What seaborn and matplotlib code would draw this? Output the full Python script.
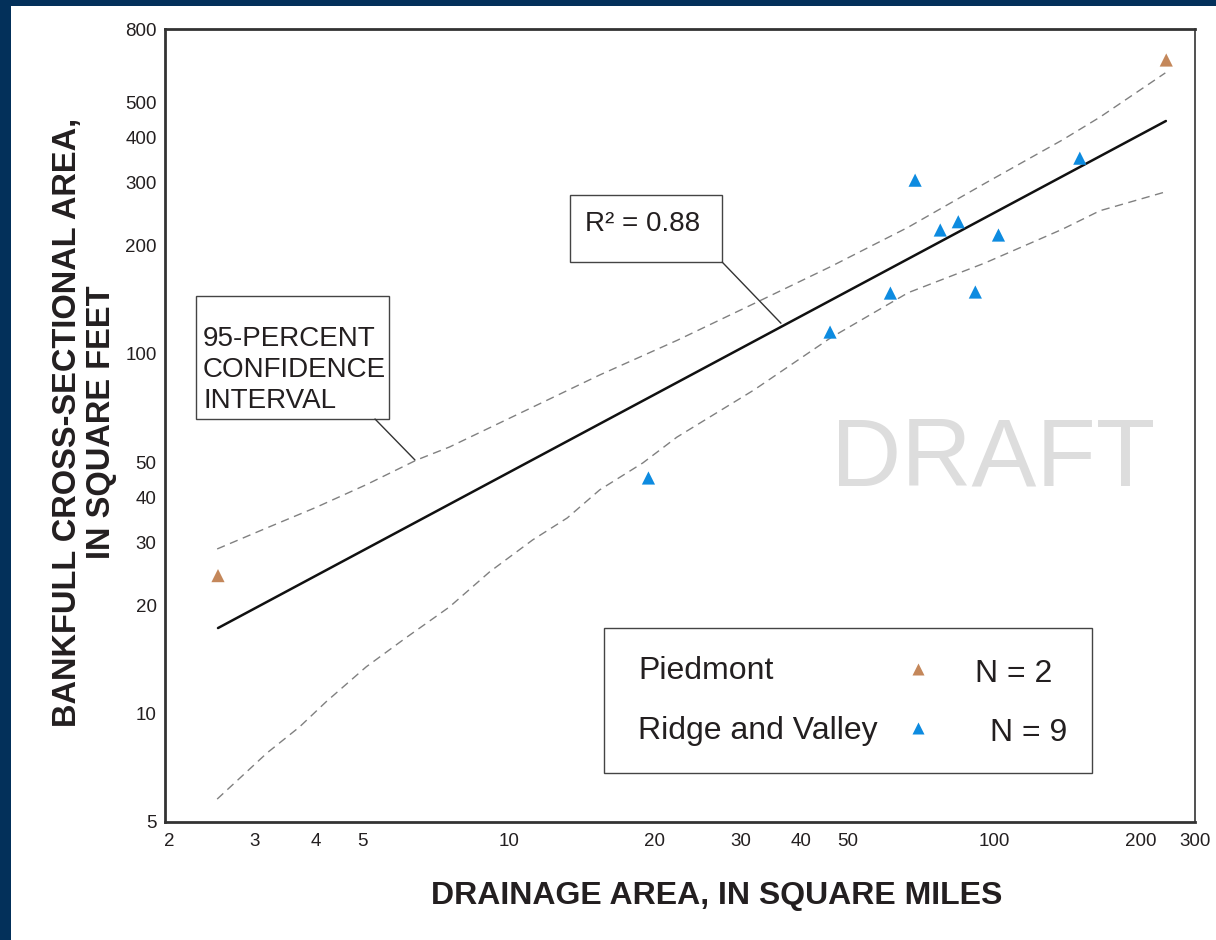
import numpy as np
import pandas as pd
import matplotlib
matplotlib.use("Agg")
import matplotlib.pyplot as plt
import seaborn as sns
from matplotlib.patches import Rectangle
from matplotlib.ticker import NullLocator

# Bankfull survey sites
regions = ["Piedmont"] * 2 + ["Ridge and Valley"] * 9
drainage_area = [2.52, 226, 19.4, 45.9, 61.1, 68.7, 77.4, 84.3, 91.4, 102, 150]
xsec_area = [24.2, 656, 45.2, 115, 147.6, 304, 221, 233, 148.6, 214, 350]

# Regression line (power fit) and 95-percent confidence limits
fit_x = [2.52, 225.6]
fit_y = [17.3, 444]
upper_x = [2.51, 3.17, 4.02, 5.09, 6.46, 7.55, 15.4, 22.2, 32.0, 46.1, 66.5, 95.7, 138, 165, 225]
upper_y = [28.7, 32.8, 37.5, 43.3, 50.7, 55.1, 87.4, 109, 138, 175, 225, 298, 393, 455, 604]
lower_x = [2.51, 3.18, 3.71, 4.21, 5.09, 6.16, 7.55, 9.14, 11.2, 13.2, 15.4, 18.9, 22.2,
           32.0, 46.1, 66.5, 95.7, 138, 165, 225]
lower_y = [5.79, 7.78, 9.19, 10.8, 13.5, 16.3, 19.8, 24.8, 30.4, 35.0, 41.9, 49.8, 58.7,
           79.4, 111, 148, 179, 222, 250, 282]

region_names = ["Piedmont", "Ridge and Valley"]
region_counts = ["N = 2", "N = 9"]
region_colors = {"Piedmont": "#c4875a", "Ridge and Valley": "#0d8be0"}

x_ticks = [2, 3, 4, 5, 10, 20, 30, 40, 50, 100, 200]
x_tick_labels = ["2", "3", "4", "5", "10", "20", "30", "40", "50", "100", "200", "300"]
y_ticks = [5, 10, 20, 30, 40, 50, 100, 200, 300, 400, 500, 800]
y_tick_labels = [str(v) for v in y_ticks]

X_MIN, X_MAX = 1.96, 259
Y_MIN, Y_MAX = 5, 800

sns.set_theme(style="white")
plt.rcParams["font.family"] = ["Liberation Sans", "DejaVu Sans"]
TXT = "#231f20"

df = pd.DataFrame({"region": regions, "area": drainage_area, "xsec": xsec_area})

fig = plt.figure(figsize=(12.16, 9.40), dpi=100)
fig.patch.set_facecolor("white")
ax = fig.add_axes([165 / 1216, 1 - 822 / 940, 1030 / 1216, 793 / 940])
ax.set_xscale("log")
ax.set_yscale("log")

# watermark
ax.text(0.804, 0.456, "DRAFT", transform=ax.transAxes, fontsize=70, color="#dddddd",
        ha="center", va="center", zorder=0)

sns.lineplot(x=upper_x, y=upper_y, ax=ax, color="#808080", lw=1.0, sort=False,
             estimator=None, dashes=False, linestyle=(0, (6, 4)), zorder=2)
sns.lineplot(x=lower_x, y=lower_y, ax=ax, color="#808080", lw=1.0, sort=False,
             estimator=None, dashes=False, linestyle=(0, (6, 4)), zorder=2)
sns.lineplot(x=fit_x, y=fit_y, ax=ax, color="#111111", lw=1.8, sort=False,
             estimator=None, zorder=3)

sns.scatterplot(data=df, x="area", y="xsec", hue="region", palette=region_colors,
                marker="^", s=90, edgecolor="none", legend=False, ax=ax, zorder=4)

ax.set_xlim(X_MIN, X_MAX)
ax.set_ylim(Y_MIN, Y_MAX)
ax.xaxis.set_minor_locator(NullLocator())
ax.yaxis.set_minor_locator(NullLocator())
ax.set_xticks(x_ticks + [X_MAX * 0.9999])
ax.set_xticklabels(x_tick_labels)
ax.set_yticks(y_ticks)
ax.set_yticklabels(y_tick_labels)
ax.tick_params(axis="both", length=0, labelsize=13.5, labelcolor=TXT)
ax.tick_params(axis="x", pad=8)
ax.tick_params(axis="y", pad=6)
ax.set_xlabel("")
ax.set_ylabel("")

for side, lw in [("left", 2.0), ("bottom", 2.0), ("top", 2.0), ("right", 1.2)]:
    ax.spines[side].set_visible(True)
    ax.spines[side].set_color("#333333")
    ax.spines[side].set_linewidth(lw)

# R-squared callout
ax.add_patch(Rectangle((0.393, 0.706), 0.148, 0.085, transform=ax.transAxes,
                       facecolor="white", edgecolor="#444444", lw=1.0, zorder=5))
ax.text(0.408, 0.754, "R² = 0.88", transform=ax.transAxes, fontsize=20, color=TXT,
        ha="left", va="center", zorder=6)
ax.plot([0.541, 0.598], [0.706, 0.629], transform=ax.transAxes, color="#333333",
        lw=1.0, zorder=5)

# Confidence-interval callout
ax.add_patch(Rectangle((0.0301, 0.508), 0.1874, 0.155, transform=ax.transAxes,
                       facecolor="white", edgecolor="#444444", lw=1.0, zorder=5))
ax.text(0.0369, 0.570, "95-PERCENT\nCONFIDENCE\nINTERVAL", transform=ax.transAxes,
        fontsize=20, color=TXT, ha="left", va="center", linespacing=1.27, zorder=6)
ax.plot([0.2039, 0.2427], [0.5082, 0.4565], transform=ax.transAxes, color="#333333",
        lw=1.0, zorder=5)

# Region key
ax.add_patch(Rectangle((0.4262, 0.0618), 0.4738, 0.1828, transform=ax.transAxes,
                       facecolor="white", edgecolor="#444444", lw=1.0, zorder=5))
key_rows = [0.1900, 0.1150]
key_count_x = [0.7864, 0.8010]
for name, count, yk, xc in zip(region_names, region_counts, key_rows, key_count_x):
    ax.text(0.4592, yk, name, transform=ax.transAxes, fontsize=23, color=TXT,
            ha="left", va="center", zorder=6)
    ax.plot([0.7311], [yk + 0.003], transform=ax.transAxes, marker="^", ms=8,
            color=region_colors[name], mec="none", zorder=6)
    ax.text(xc, yk - 0.003, count, transform=ax.transAxes, fontsize=23, color=TXT,
            ha="left", va="center", zorder=6)

fig.text(0.0695, 0.551, "BANKFULL CROSS-SECTIONAL AREA,\nIN SQUARE FEET", rotation=90,
         fontsize=23.5, fontweight="bold", color=TXT, ha="center", va="center",
         linespacing=1.15)
fig.text(0.589, 0.047, "DRAINAGE AREA, IN SQUARE MILES", fontsize=23,
         fontweight="bold", color=TXT, ha="center", va="center")

# page frame
fig.patches.append(Rectangle((0, 0), 11 / 1216, 1, transform=fig.transFigure,
                             facecolor="#03305a", edgecolor="none", zorder=10))
fig.patches.append(Rectangle((0, 1 - 6 / 940), 1, 6 / 940, transform=fig.transFigure,
                             facecolor="#03305a", edgecolor="none", zorder=10))

fig.savefig("out.png", dpi=100)
